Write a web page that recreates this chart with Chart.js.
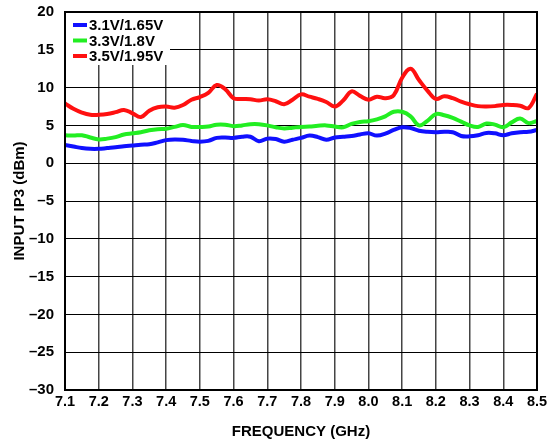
<!DOCTYPE html>
<html>
<head>
<meta charset="utf-8">
<script src="https://cdn.jsdelivr.net/npm/chart.js@4/dist/chart.umd.min.js"></script>
<style>
  html, body { margin: 0; padding: 0; background: #fff; }
  #wrap { width: 553px; height: 444px; }
</style>
</head>
<body>
<div id="wrap"><canvas id="ip3Chart" width="553" height="444"></canvas></div>
<script>
// frequency points, GHz (every 25 MHz)
const freqs = [
    7.100, 7.125, 7.150, 7.175, 7.200, 7.225, 7.250, 7.275, 7.300, 7.325,
    7.350, 7.375, 7.400, 7.425, 7.450, 7.475, 7.500, 7.525, 7.550, 7.575,
    7.600, 7.625, 7.650, 7.675, 7.700, 7.725, 7.750, 7.775, 7.800, 7.825,
    7.850, 7.875, 7.900, 7.925, 7.950, 7.975, 8.000, 8.025, 8.050, 8.075,
    8.100, 8.125, 8.150, 8.175, 8.200, 8.225, 8.250, 8.275, 8.300, 8.325,
    8.350, 8.375, 8.400, 8.425, 8.450, 8.475, 8.500
];

const ip3_310 = [
    2.4, 2.2, 2.0, 1.9, 1.9, 2.0, 2.1, 2.25, 2.35, 2.45,
    2.5, 2.75, 3.05, 3.15, 3.1, 2.95, 2.85, 2.95, 3.35, 3.4,
    3.35, 3.5, 3.5, 2.9, 3.25, 3.2, 2.85, 3.1, 3.35, 3.65,
    3.45, 3.1, 3.4, 3.5, 3.6, 3.8, 3.95, 3.65, 3.9, 4.4,
    4.75, 4.65, 4.3, 4.15, 4.1, 4.15, 4.1, 3.6, 3.55, 3.7,
    4.0, 3.95, 3.7, 3.95, 4.1, 4.15, 4.4
];

const ip3_330 = [
    3.7, 3.65, 3.7, 3.4, 3.15, 3.25, 3.45, 3.8, 3.95, 4.1,
    4.35, 4.5, 4.55, 4.8, 5.05, 4.8, 4.8, 4.85, 5.1, 5.1,
    4.9, 5.0, 5.15, 5.15, 5.0, 4.75, 4.6, 4.7, 4.8, 4.85,
    4.95, 5.0, 4.85, 4.75, 5.2, 5.45, 5.55, 5.8, 6.2, 6.8,
    6.8, 6.2, 5.0, 5.6, 6.5, 6.35, 6.0, 5.5, 5.0, 4.8,
    5.25, 5.1, 4.75, 5.4, 5.9, 5.3, 5.6
];

const ip3_350 = [
    7.9, 7.2, 6.7, 6.4, 6.4, 6.5, 6.75, 7.05, 6.6, 6.1,
    6.95, 7.4, 7.5, 7.35, 7.7, 8.4, 8.75, 9.3, 10.35, 9.8,
    8.6, 8.5, 8.45, 8.3, 8.45, 8.2, 7.8, 8.4, 9.1, 8.8,
    8.5, 8.1, 7.5, 8.3, 9.5, 8.9, 8.4, 8.8, 8.6, 9.0,
    11.3, 12.5, 11.0, 9.6, 8.5, 8.85, 8.6, 8.15, 7.8, 7.55,
    7.5, 7.55, 7.7, 7.7, 7.6, 7.3, 9.2
];

const seriesLabels = ["3.1V/1.65V", "3.3V/1.8V", "3.5V/1.95V"];
const seriesColors = ["#1010ff", "#22ee22", "#ff1010"];

const FONT = "'Liberation Sans', Arial, sans-serif";

function toPoints(values) {
    return values.map((v, i) => ({x: freqs[i], y: v}));
}

// legend box sitting in the top-left of the plot, plus the frame around the plot
const insideLegend = {
    id: "insideLegend",
    afterDraw(chart) {
        const ctx = chart.ctx;
        const area = chart.chartArea;
        ctx.save();
        ctx.fillStyle = "#fff";
        ctx.fillRect(area.left, area.top, 105, 53);
        ctx.font = "bold 15px " + FONT;
        ctx.textBaseline = "middle";
        ctx.lineCap = "butt";
        seriesLabels.forEach((label, i) => {
            const y = area.top + 13 + i * 15.5;
            ctx.strokeStyle = seriesColors[i];
            ctx.lineWidth = 4;
            ctx.beginPath();
            ctx.moveTo(area.left + 8, y);
            ctx.lineTo(area.left + 22, y);
            ctx.stroke();
            ctx.fillStyle = "#000";
            ctx.fillText(label, area.left + 24, y + 1);
        });
        ctx.strokeStyle = "#000";
        ctx.lineWidth = 2;
        ctx.strokeRect(area.left, area.top, area.right - area.left, area.bottom - area.top);
        ctx.restore();
    }
};

new Chart(document.getElementById("ip3Chart"), {
    type: "line",
    data: {
        datasets: [
            {label: seriesLabels[0], data: toPoints(ip3_310), borderColor: seriesColors[0]},
            {label: seriesLabels[1], data: toPoints(ip3_330), borderColor: seriesColors[1]},
            {label: seriesLabels[2], data: toPoints(ip3_350), borderColor: seriesColors[2]}
        ]
    },
    options: {
        responsive: false,
        animation: false,
        layout: {padding: {top: 12, right: 16, left: 0, bottom: 0}},
        elements: {
            line: {borderWidth: 4, tension: 0.4, fill: false},
            point: {radius: 0}
        },
        plugins: {
            legend: {display: false},
            tooltip: {enabled: false}
        },
        scales: {
            x: {
                type: "linear",
                min: 7.1,
                max: 8.5,
                afterFit: s => { s.height = 54; },
                ticks: {
                    stepSize: 0.1,
                    maxRotation: 0,
                    autoSkip: false,
                    color: "#000",
                    padding: 3,
                    font: {family: FONT, size: 14.5, weight: "bold"},
                    callback: v => Number(v).toFixed(1)
                },
                grid: {color: "#444", lineWidth: 1.5, drawTicks: false},
                border: {display: false},
                title: {
                    display: true,
                    text: "FREQUENCY (GHz)",
                    color: "#000",
                    font: {family: FONT, size: 15, weight: "bold"},
                    padding: {top: 0, bottom: 3}
                }
            },
            y: {
                min: -30,
                max: 20,
                // the tick padding would otherwise push the plot top down
                afterFit: s => { s.width = 65; s.paddingTop = 9; s.paddingBottom = 9; },
                ticks: {
                    stepSize: 5,
                    color: "#000",
                    padding: 11,
                    font: {family: FONT, size: 15, weight: "bold"},
                    callback: v => v < 0 ? "\u2013" + Math.abs(v) : String(v)
                },
                grid: {color: "#000", lineWidth: 1, drawTicks: false},
                border: {display: false},
                title: {
                    display: true,
                    text: "INPUT IP3 (dBm)",
                    color: "#000",
                    font: {family: FONT, size: 15, weight: "bold"},
                    padding: {top: 11, bottom: 0}
                }
            }
        }
    },
    plugins: [insideLegend]
});
</script>
</body>
</html>
